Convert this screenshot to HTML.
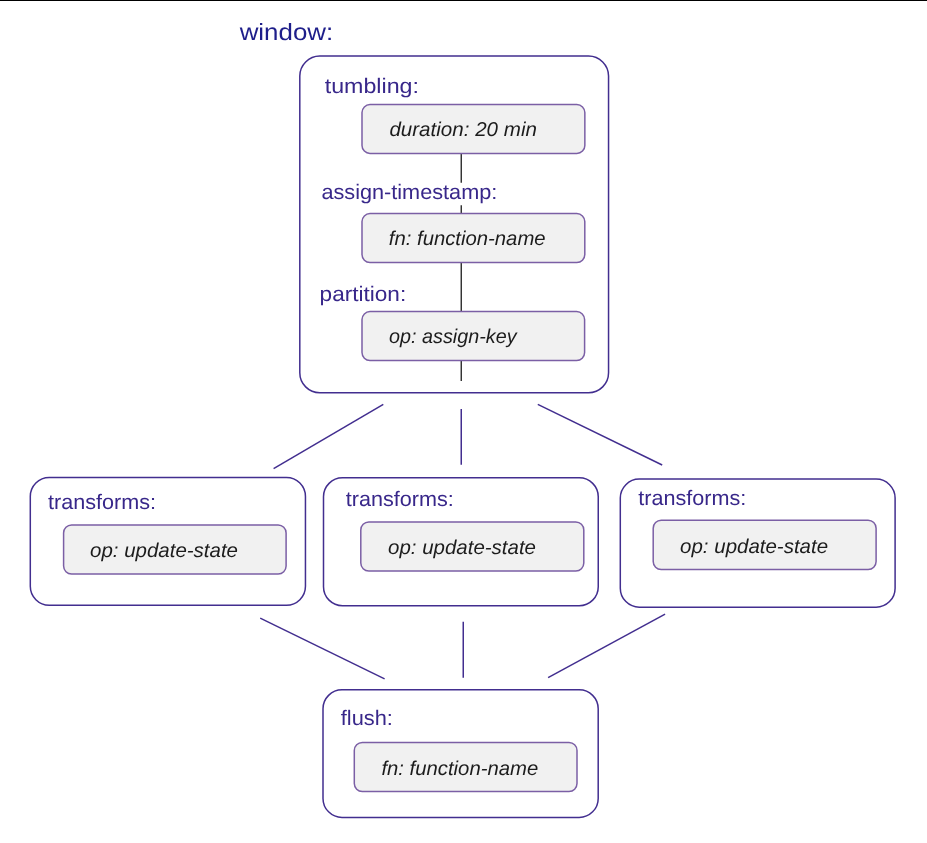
<!DOCTYPE html>
<html>
<head>
<meta charset="utf-8">
<title>window diagram</title>
<style>
  html, body { margin: 0; padding: 0; background: #ffffff; }
  body { width: 927px; height: 843px; overflow: hidden; font-family: "Liberation Sans", sans-serif; }
  svg { display: block; position: absolute; left: 0; top: 0; will-change: transform; }
  .outer { fill: #ffffff; stroke: #422e8f; stroke-width: 1.5; }
  .inner { fill: #f1f1f1; stroke: #7b5fa5; stroke-width: 1.5; }
  .pl { stroke: #422e8f; stroke-width: 1.5; fill: none; }
  .dl { stroke: #333333; stroke-width: 1.45; fill: none; }
  text { font-family: "Liberation Sans", sans-serif; text-rendering: geometricPrecision; }
  .lab { font-size: 21px; fill: #38278a; }
  .win { font-size: 23.5px; fill: #1e1e8a; }
  .it { font-size: 20px; font-style: italic; fill: #1c1c1c; }
</style>
</head>
<body>
<svg width="927" height="843" viewBox="0 0 927 843">
  <rect x="0" y="0" width="927" height="1" fill="#000000"/>
  <text class="win" x="239.7" y="39.8" textLength="93.5" lengthAdjust="spacingAndGlyphs">window:</text>
  <rect class="outer" x="299.80" y="56.10" width="308.75" height="336.65" rx="20" ry="20"/>
  <line class="dl" x1="461.27" y1="153.4" x2="461.27" y2="182.8"/>
  <line class="dl" x1="461.27" y1="205.3" x2="461.27" y2="213.6"/>
  <line class="dl" x1="461.27" y1="262.5" x2="461.27" y2="311.6"/>
  <line class="dl" x1="461.27" y1="360.5" x2="461.27" y2="381.1"/>
  <text class="lab" x="324.7" y="92.6" textLength="94.3" lengthAdjust="spacingAndGlyphs">tumbling:</text>
  <rect class="inner" x="362.00" y="104.60" width="222.85" height="48.80" rx="8" ry="8"/>
  <text class="it" x="389.4" y="135.9" textLength="147.5" lengthAdjust="spacingAndGlyphs">duration: 20 min</text>
  <text class="lab" x="321.4" y="198.8" textLength="175.9" lengthAdjust="spacingAndGlyphs">assign-timestamp:</text>
  <rect class="inner" x="362.00" y="213.60" width="222.80" height="48.90" rx="8" ry="8"/>
  <text class="it" x="388.8" y="244.7" textLength="156.8" lengthAdjust="spacingAndGlyphs">fn: function-name</text>
  <text class="lab" x="319.6" y="300.5" textLength="86.6" lengthAdjust="spacingAndGlyphs">partition:</text>
  <rect class="inner" x="362.00" y="311.60" width="222.60" height="48.90" rx="8" ry="8"/>
  <text class="it" x="389.1" y="343.1" textLength="127.5" lengthAdjust="spacingAndGlyphs">op: assign-key</text>
  <line class="pl" x1="383.3" y1="404.3" x2="273.6" y2="468.7"/>
  <line class="pl" x1="461.25" y1="409.1" x2="461.25" y2="464.8"/>
  <line class="pl" x1="537.8" y1="404.3" x2="662.2" y2="465.0"/>
  <rect class="outer" x="30.30" y="477.50" width="275.15" height="127.75" rx="19" ry="19"/>
  <text class="lab" x="48.1" y="509.0" textLength="108.0" lengthAdjust="spacingAndGlyphs">transforms:</text>
  <rect class="inner" x="63.60" y="525.00" width="222.50" height="49.00" rx="8" ry="8"/>
  <text class="it" x="90.0" y="556.6" textLength="148.0" lengthAdjust="spacingAndGlyphs">op: update-state</text>
  <rect class="outer" x="323.50" y="477.80" width="274.75" height="127.90" rx="19" ry="19"/>
  <text class="lab" x="345.8" y="505.8" textLength="108.0" lengthAdjust="spacingAndGlyphs">transforms:</text>
  <rect class="inner" x="360.80" y="521.90" width="223.00" height="49.10" rx="8" ry="8"/>
  <text class="it" x="388.0" y="553.9" textLength="148.0" lengthAdjust="spacingAndGlyphs">op: update-state</text>
  <rect class="outer" x="620.30" y="479.10" width="274.80" height="128.05" rx="19" ry="19"/>
  <text class="lab" x="638.3" y="504.5" textLength="108.0" lengthAdjust="spacingAndGlyphs">transforms:</text>
  <rect class="inner" x="653.20" y="520.20" width="222.90" height="49.40" rx="8" ry="8"/>
  <text class="it" x="680.1" y="552.5" textLength="148.0" lengthAdjust="spacingAndGlyphs">op: update-state</text>
  <line class="pl" x1="260.2" y1="618.2" x2="384.6" y2="678.8"/>
  <line class="pl" x1="463.25" y1="621.85" x2="463.25" y2="677.7"/>
  <line class="pl" x1="665.1" y1="614.2" x2="548.1" y2="677.6"/>
  <rect class="outer" x="323.00" y="689.80" width="275.20" height="127.60" rx="19" ry="19"/>
  <text class="lab" x="340.8" y="724.7" textLength="52.1" lengthAdjust="spacingAndGlyphs">flush:</text>
  <rect class="inner" x="354.30" y="742.40" width="222.70" height="49.10" rx="8" ry="8"/>
  <text class="it" x="381.4" y="774.5" textLength="156.8" lengthAdjust="spacingAndGlyphs">fn: function-name</text>
</svg>
</body>
</html>
